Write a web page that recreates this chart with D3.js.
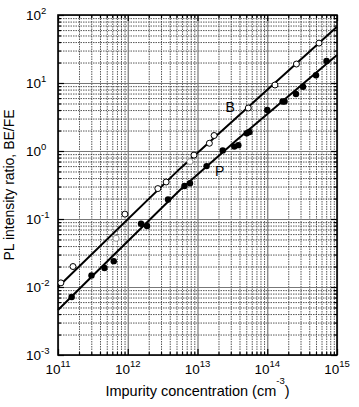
<!DOCTYPE html>
<html>
<head>
<meta charset="utf-8">
<script src="https://cdn.jsdelivr.net/npm/d3@7"></script>
<style>
  body { margin: 0; background: #fff; }
  svg { display: block; font-family: "Liberation Sans", Arial, sans-serif; }
  text { fill: #000; }
</style>
</head>
<body>
<svg id="chart" width="359" height="407"></svg>
<script>
// Data (x: impurity concentration in cm^-3, y: BE/FE ratio)
const bConc  = [1.1e11, 1.64e11, 9.1e11, 2.7e12, 3.55e12, 8.9e12, 1.48e13, 1.73e13, 5.35e13, 1.29e14, 2.62e14, 5.52e14];
const bRatio = [0.0115, 0.020, 0.118, 0.28, 0.35, 0.87, 1.30, 1.69, 4.29, 9.35, 19.0, 38.6];
const bFaintConc  = [6.8e11, 7.8e12];
const bFaintRatio = [0.052, 0.70];

const pConc  = [1.57e11, 3.02e11, 4.64e11, 6.3e11, 1.55e12, 1.89e12, 3.78e12, 6.5e12, 7.8e12, 1.35e13, 2.3e13,
                3.37e13, 3.85e13, 5.08e13, 5.56e13, 1.0e14, 1.66e14, 1.77e14, 2.58e14, 3.26e14, 5.0e14, 7.08e14];
const pRatio = [0.00713, 0.0148, 0.019, 0.024, 0.085, 0.079, 0.194, 0.305, 0.335, 0.60, 1.02,
                1.16, 1.22, 1.82, 1.90, 4.0, 5.35, 5.35, 6.9, 8.8, 13.0, 21.1];

// fitted curves, read at a few places along each line
const bFitConc  = [1e11, 5.6e12, 1e15];
const bFitRatio = [0.01, 0.55, 67];
const pFitConc  = [1e11, 2.72e11, 5.6e12, 3.65e13, 1e15];
const pFitRatio = [0.0046, 0.0127, 0.267, 1.45, 25.8];

const xExps = [11, 12, 13, 14, 15];
const yExps = [-3, -2, -1, 0, 1, 2];
const seriesLabels = ["B", "P"];

let svg = d3.select("svg#chart");
let margin = { "top": 15, "right": 22, "bottom": 52, "left": 58 };
let chartWidth = 359 - margin.left - margin.right;
let chartHeight = 407 - margin.top - margin.bottom;

const xScale = d3.scaleLog()
  .domain([1e11, 1e15])
  .range([0, chartWidth]);

const yScale = d3.scaleLog()
  .domain([1e-3, 1e2])
  .range([chartHeight, 0]);

let g = svg.append("g")
  .attr("transform", "translate(" + margin.left + "," + margin.top + ")");

// minor / major tick values
function minorVals(exps) {
  let out = [];
  for (let i = 0; i < exps.length - 1; i++) {
    for (let k = 2; k <= 9; k++) out.push(k * Math.pow(10, exps[i]));
  }
  return out;
}
let xMajor = xExps.map(e => Math.pow(10, e));
let yMajor = yExps.map(e => Math.pow(10, e));
let xMinor = minorVals(xExps);
let yMinor = minorVals(yExps);

// gridlines
g.append("g")
  .attr("transform", "translate(0," + chartHeight + ")")
  .call(d3.axisBottom(xScale).tickValues(xMinor).tickSize(-chartHeight).tickFormat(""))
  .call(a => a.select(".domain").remove())
  .selectAll("line")
  .attr("stroke", "#222")
  .attr("stroke-width", 0.75)
  .attr("stroke-dasharray", "1.5,1");

g.append("g")
  .call(d3.axisLeft(yScale).tickValues(yMinor).tickSize(-chartWidth).tickFormat(""))
  .call(a => a.select(".domain").remove())
  .selectAll("line")
  .attr("stroke", "#222")
  .attr("stroke-width", 0.75)
  .attr("stroke-dasharray", "1.5,1");

g.append("g")
  .attr("transform", "translate(0," + chartHeight + ")")
  .call(d3.axisBottom(xScale).tickValues(xMajor).tickSize(-chartHeight).tickFormat(""))
  .call(a => a.select(".domain").remove())
  .selectAll("line")
  .attr("stroke", "#777")
  .attr("stroke-width", 1.2);

g.append("g")
  .call(d3.axisLeft(yScale).tickValues(yMajor).tickSize(-chartWidth).tickFormat(""))
  .call(a => a.select(".domain").remove())
  .selectAll("line")
  .attr("stroke", "#777")
  .attr("stroke-width", 1.2);

// inward ticks on all four sides
function ticks(axis, tr, vals, size) {
  g.append("g")
    .attr("transform", tr)
    .call(axis.tickValues(vals).tickSize(size).tickFormat(""))
    .call(a => a.select(".domain").remove())
    .selectAll("line")
    .attr("stroke", "#000")
    .attr("stroke-width", 1.2);
}
ticks(d3.axisBottom(xScale), "translate(0," + chartHeight + ")", xMajor, -6);
ticks(d3.axisBottom(xScale), "translate(0," + chartHeight + ")", xMinor, -3);
ticks(d3.axisTop(xScale), "translate(0,0)", xMajor, -6);
ticks(d3.axisTop(xScale), "translate(0,0)", xMinor, -3);
ticks(d3.axisLeft(yScale), "translate(0,0)", yMajor, -6);
ticks(d3.axisLeft(yScale), "translate(0,0)", yMinor, -3);
ticks(d3.axisRight(yScale), "translate(" + chartWidth + ",0)", yMajor, -6);
ticks(d3.axisRight(yScale), "translate(" + chartWidth + ",0)", yMinor, -3);

// frame
g.append("rect")
  .attr("width", chartWidth)
  .attr("height", chartHeight)
  .attr("fill", "none")
  .attr("stroke", "#000")
  .attr("stroke-width", 1.6);

// fitted lines
let line = d3.line()
  .x(d => xScale(d[0]))
  .y(d => yScale(d[1]));

g.append("path")
  .datum(bFitConc.map((c, i) => [c, bFitRatio[i]]))
  .attr("d", line)
  .attr("fill", "none")
  .attr("stroke", "#000")
  .attr("stroke-width", 2);

g.append("path")
  .datum(pFitConc.map((c, i) => [c, pFitRatio[i]]))
  .attr("d", line)
  .attr("fill", "none")
  .attr("stroke", "#000")
  .attr("stroke-width", 2);

// B: open circles
g.selectAll("circle.b")
  .data(bConc.map((c, i) => [c, bRatio[i]]))
  .enter().append("circle")
  .attr("class", "b")
  .attr("cx", d => xScale(d[0]))
  .attr("cy", d => yScale(d[1]))
  .attr("r", 3)
  .attr("fill", "#fff")
  .attr("stroke", "#000")
  .attr("stroke-width", 1);

g.selectAll("circle.bf")
  .data(bFaintConc.map((c, i) => [c, bFaintRatio[i]]))
  .enter().append("circle")
  .attr("class", "bf")
  .attr("cx", d => xScale(d[0]))
  .attr("cy", d => yScale(d[1]))
  .attr("r", 3)
  .attr("fill", "#fff")
  .attr("stroke", "#999")
  .attr("stroke-width", 1);

// P: filled circles
g.selectAll("circle.p")
  .data(pConc.map((c, i) => [c, pRatio[i]]))
  .enter().append("circle")
  .attr("class", "p")
  .attr("cx", d => xScale(d[0]))
  .attr("cy", d => yScale(d[1]))
  .attr("r", 3.2)
  .attr("fill", "#000");

// series labels
g.append("text")
  .attr("x", xScale(2.52e13))
  .attr("y", yScale(3.8))
  .attr("font-size", "14px")
  .text(seriesLabels[0]);

g.append("text")
  .attr("x", xScale(1.78e13))
  .attr("y", yScale(0.43))
  .attr("font-size", "14px")
  .text(seriesLabels[1]);

// tick labels as 10^n
xExps.forEach(e => {
  svg.append("text")
    .attr("text-anchor", "middle")
    .attr("x", margin.left + xScale(Math.pow(10, e)))
    .attr("y", margin.top + chartHeight + 19)
    .attr("font-size", "13.5px")
    .call(t => {
      t.append("tspan").text("10");
      t.append("tspan").attr("font-size", "9.5px").attr("dy", -7).text(e);
    });
});

yExps.forEach(e => {
  svg.append("text")
    .attr("x", 26)
    .attr("y", margin.top + yScale(Math.pow(10, e)) + 5)
    .attr("font-size", "13.5px")
    .call(t => {
      t.append("tspan").text("10");
      t.append("tspan").attr("font-size", "9.5px").attr("dy", -6).text(e);
    });
});

// axis titles
svg.append("text")
  .attr("text-anchor", "middle")
  .attr("x", margin.left + chartWidth / 2)
  .attr("y", 396)
  .attr("font-size", "14.5px")
  .call(t => {
    t.append("tspan").text("Impurity concentration (cm");
    t.append("tspan").attr("font-size", "9.5px").attr("dy", -12).text("-3");
    t.append("tspan").attr("dy", 12).text(")");
  });

let xCent = 13.5;
let yCent = margin.top + chartHeight / 2;
svg.append("text")
  .attr("text-anchor", "middle")
  .attr("x", xCent)
  .attr("y", yCent)
  .attr("font-size", "14px")
  .attr("transform", "rotate(-90," + xCent + "," + yCent + ")")
  .text("PL intensity ratio, BE/FE");
</script>
</body>
</html>
